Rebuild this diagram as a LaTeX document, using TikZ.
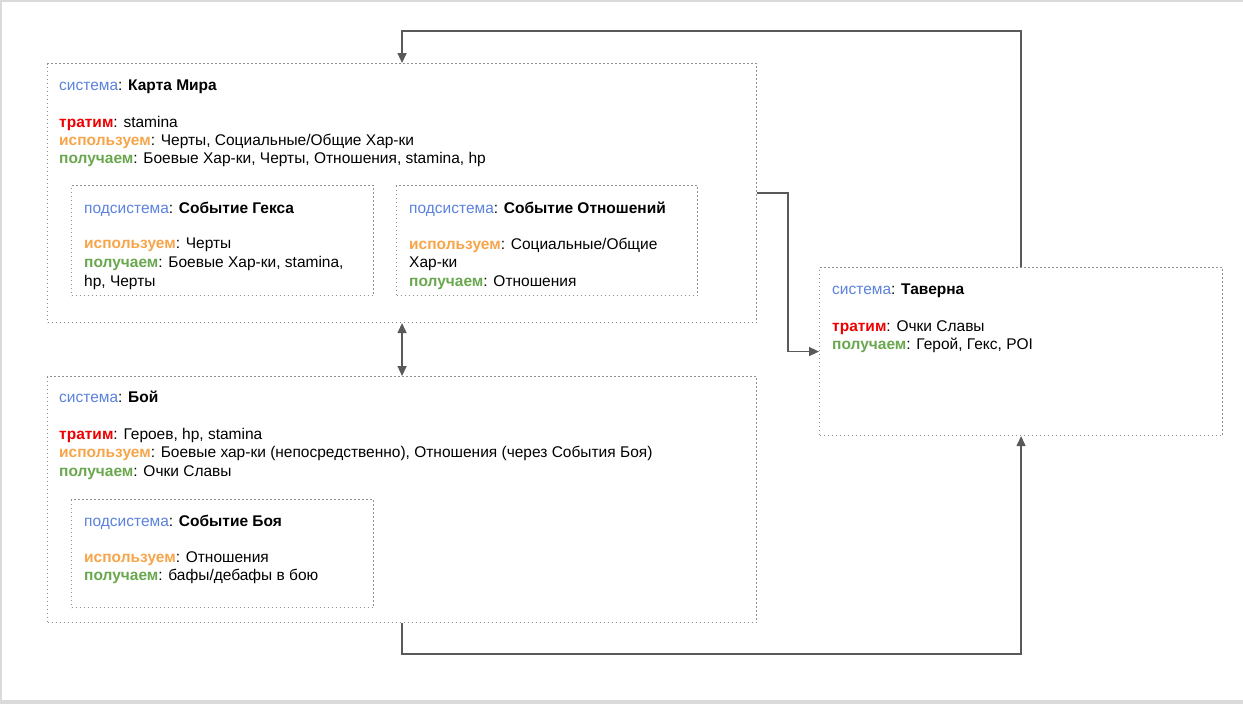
\documentclass[tikz,border=0pt]{standalone}
\usepackage{fontspec}
\setmainfont{Liberation Sans}
\usetikzlibrary{arrows.meta}
\definecolor{cblue}{HTML}{5B82DE}
\definecolor{cred}{HTML}{EE0000}
\definecolor{corange}{HTML}{F7A54A}
\definecolor{cgreen}{HTML}{6AA84F}
\definecolor{cline}{HTML}{595959}
\definecolor{cdot}{HTML}{909090}
\definecolor{cframe}{HTML}{DADADA}
\newcommand{\sys}[1]{\textcolor{cblue}{система}: \textbf{#1}}
\newcommand{\subsys}[1]{\textcolor{cblue}{подсистема}: \textbf{#1}}
\newcommand{\spend}{\textcolor{cred}{\textbf{тратим}}:}
\newcommand{\useit}{\textcolor{corange}{\textbf{используем}}:}
\newcommand{\gain}{\textcolor{cgreen}{\textbf{получаем}}:}
\begin{document}
\begin{tikzpicture}[x=1pt,y=-1pt,
  dotbox/.style={draw=cdot, line width=1.1pt, dash pattern=on 1.1pt off 2.9pt, minimum width=#1, anchor=north west, inner sep=0pt},
  txt/.style={anchor=base west, inner sep=0pt, font=\fontsize{15.5}{18}\selectfont},
  conn/.style={draw=cline, line width=1.4pt},
  tip/.style={-{Triangle[length=10pt,width=9pt]}}
]
\useasboundingbox (0,0) rectangle (1243,704);
\fill[white] (0,0) rectangle (1243,704);
\draw[cframe, line width=1.5pt] (1,704) -- (1,1) -- (1243,1);
\fill[cframe] (0,700) rectangle (1243,704);

% boxes
\node[dotbox=709pt, minimum height=259pt] (karta) at (47,63) {};
\node[dotbox=302pt, minimum height=110pt] (hex) at (71,185) {};
\node[dotbox=301pt, minimum height=110pt] (rel) at (396,185) {};
\node[dotbox=709pt, minimum height=246pt] (boj) at (47,376) {};
\node[dotbox=302pt, minimum height=108pt] (bojev) at (71,499) {};
\node[dotbox=403pt, minimum height=168pt] (tav) at (819,267) {};

% Карта Мира
\node[txt] (k1) at (59,90) {\sys{Карта Мира}};
\node[txt] (k2) at (59,127) {\spend{} stamina};
\node[txt] (k3) at (59,145) {\useit{} Черты, Социальные/Общие Хар-ки};
\node[txt] (k4) at (59,163) {\gain{} Боевые Хар-ки, Черты, Отношения, stamina, hp};

% Событие Гекса
\node[txt] (h1) at (84,213) {\subsys{Событие Гекса}};
\node[txt] (h2) at (84,248) {\useit{} Черты};
\node[txt] (h3) at (84,267) {\gain{} Боевые Хар-ки, stamina,};
\node[txt] (h4) at (84,286) {hp, Черты};

% Событие Отношений
\node[txt] (r1) at (409,213) {\subsys{Событие Отношений}};
\node[txt] (r2) at (409,249) {\useit{} Социальные/Общие};
\node[txt] (r3) at (409,267) {Хар-ки};
\node[txt] (r4) at (409,286) {\gain{} Отношения};

% Таверна
\node[txt] (t1) at (832,294) {\sys{Таверна}};
\node[txt] (t2) at (832,331) {\spend{} Очки Славы};
\node[txt] (t3) at (832,349) {\gain{} Герой, Гекс, POI};

% Бой
\node[txt] (b1) at (59,402) {\sys{Бой}};
\node[txt] (b2) at (59,439) {\spend{} Героев, hp, stamina};
\node[txt] (b3) at (59,457) {\useit{} Боевые хар-ки (непосредственно), Отношения (через События Боя)};
\node[txt] (b4) at (59,476) {\gain{} Очки Славы};

% Событие Боя
\node[txt] (e1) at (84,526) {\subsys{Событие Боя}};
\node[txt] (e2) at (84,562) {\useit{} Отношения};
\node[txt] (e3) at (84,580) {\gain{} бафы/дебафы в бою};

% connectors
\coordinate (toprow) at (0,31);
\coordinate (botrow) at (0,654);
\coordinate (bendx) at (788,0);
\draw[conn, tip] (tav.north) -- (tav.north |- toprow) -- (karta.north |- toprow) -- (karta.north);
\draw[conn, tip] (karta.east) -- (karta.east -| bendx) -- (bendx |- tav.west) -- (tav.west);
\draw[conn, {Triangle[length=10pt,width=9pt]}-{Triangle[length=10pt,width=9pt]}] (karta.south) -- (boj.north);
\draw[conn, tip] (boj.south) -- (boj.south |- botrow) -- (tav.south |- botrow) -- (tav.south);
\end{tikzpicture}
\end{document}
